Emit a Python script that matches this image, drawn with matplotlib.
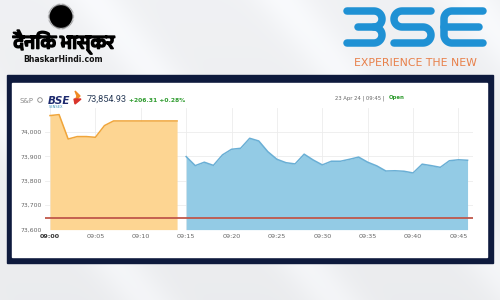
import numpy as np
import matplotlib
matplotlib.use("Agg")
from matplotlib import pyplot as plt
from matplotlib import font_manager
import matplotlib.patheffects as pe
from matplotlib.patches import Rectangle, Circle, Polygon

# ---- data ----
pre_minutes = [0, 1, 2, 3, 4, 5, 6, 7, 8, 9, 10, 11, 12, 13, 14]
pre_values = [74067, 74071, 73971, 73981, 73981, 73978, 74026, 74045,
              74045, 74045, 74045, 74045, 74045, 74045, 74045]

live_minutes = list(range(15, 47))
live_values = [73899, 73862, 73876, 73863, 73906, 73929, 73933, 73974,
               73963, 73919, 73888, 73874, 73869, 73909, 73885, 73865,
               73880, 73880, 73888, 73897, 73876, 73861, 73840, 73841,
               73839, 73832, 73868, 73862, 73855, 73882, 73886, 73884]

prev_close = 73648.62
x_ticks = [0, 5, 10, 15, 20, 25, 30, 35, 40, 45]
x_labels = ["09:00", "09:05", "09:10", "09:15", "09:20",
            "09:25", "09:30", "09:35", "09:40", "09:45"]
y_ticks = [73600, 73700, 73800, 73900, 74000]
y_labels = ["73,600", "73,700", "73,800", "73,900", "74,000"]

last_price = "73,854.93"
change_text = "+206.31 +0.28%"
stamp_text = "23 Apr 24 | 09:45 | "

# devanagari font if one is around
deva = [f.name for f in font_manager.fontManager.ttflist
        if "Devanagari" in f.name or "Lohit" in f.name or "Mukta" in f.name]
hindi_family = [deva[0], "DejaVu Sans"] if deva else ["DejaVu Sans"]

W, H = 500, 300
fig = plt.figure(figsize=(5, 3), dpi=100)

# overlay axes in pixel coords (y down)
ov = fig.add_axes([0, 0, 1, 1])
ov.set_xlim(0, W)
ov.set_ylim(H, 0)
ov.axis("off")

# background with soft diagonal streaks
yy, xx = np.mgrid[0:H, 0:W]
d = (xx - 0.8 * yy) / 60.0
bg = 0.925 + 0.035 * np.clip(np.sin(d) ** 8, 0, 1) + 0.02 * (1 - yy / H)
ov.imshow(np.dstack([bg * 0.995, bg, bg * 1.01]).clip(0, 1),
          extent=(0, W, H, 0), aspect="auto", zorder=0)

# frame
ov.add_patch(Rectangle((7, 75), 486, 188, color="#0e1a3d", zorder=1))
ov.add_patch(Rectangle((12, 82.5), 475, 174, color="white", zorder=2))

# dainik bhaskar sun: disk + spiky halo
n_spikes = 64
ang = np.linspace(0, 2 * np.pi, 2 * n_spikes, endpoint=False)
rad = np.where(np.arange(2 * n_spikes) % 2 == 0, 13.5, 10)
ov.add_patch(Polygon(np.c_[61 + rad * np.cos(ang), 16.5 + rad * np.sin(ang)],
                     color="#1a1a1a", lw=0, zorder=3))
ov.add_patch(Circle((61, 16.5), 10.5, color="black", zorder=3))
ov.text(63.5, 42, "दैनिक भास्कर", family=hindi_family, fontsize=14,
        fontweight="bold", ha="center", va="center", color="black", zorder=3,
        path_effects=[pe.withStroke(linewidth=1.2, foreground="black")])
ov.text(63, 60, "BhaskarHindi.com", family="DejaVu Sans", fontsize=5.6,
        fontweight="bold", ha="center", va="center", color="#111111", zorder=3)

# BSE logo drawn with rounded strokes
blue = "#1f91d4"
lw_logo = 7.5 * 0.72


def arc(cx, cy, r, t0, t1, n=20):
    t = np.linspace(t0, t1, n)
    return list(cx + r * np.cos(t)), list(cy + r * np.sin(t))


def stroke(xs, ys):
    ov.plot(xs, ys, color=blue, lw=lw_logo, solid_capstyle="round",
            solid_joinstyle="round", zorder=3)


# "B" (open, 3-like)
ax_, ay_ = arc(374, 19, 8, -np.pi / 2, np.pi / 2)
stroke([347] + ax_ + [358], [11] + ay_ + [27])
ax_, ay_ = arc(374, 35, 8, -np.pi / 2, np.pi / 2)
stroke(ax_ + [347], ay_ + [43])
# "S"
a1x, a1y = arc(402, 19, 8, -np.pi / 2, -3 * np.pi / 2)
a2x, a2y = arc(423, 35, 8, -np.pi / 2, np.pi / 2)
stroke([431] + a1x + a2x + [394], [11] + a1y + a2y + [43])
# "E"
b1x, b1y = arc(452, 19, 8, -np.pi / 2, -np.pi)
b2x, b2y = arc(452, 35, 8, np.pi, np.pi / 2)
stroke([483] + b1x + b2x + [483], [11] + b1y + b2y + [43])
stroke([444, 479], [27, 27])
ov.text(415, 63, "EXPERIENCE THE NEW", family="DejaVu Sans", fontsize=7.8,
        color="#e8804a", ha="center", va="center", zorder=3)

# S&P BSE SENSEX header
ov.text(19, 101, "S&P", family="DejaVu Sans", fontsize=5, color="#8a8a8a",
        ha="left", va="center", zorder=3)
ov.add_patch(Circle((40, 100), 2.3, fill=False, ec="#8a8a8a", lw=0.6, zorder=3))
ov.text(48, 101.5, "BSE", family="DejaVu Sans", fontsize=7.5, fontweight="bold",
        fontstyle="italic", color="#1d2a6e", ha="left", va="center", zorder=3)
ov.text(49, 107.5, "SENSEX", family="DejaVu Sans", fontsize=2.6,
        color="#3a8fb7", ha="left", va="center", zorder=3)
ov.add_patch(Polygon([[75, 91], [80, 96], [75, 101], [77, 96]],
                     color="#f08a24", zorder=3))
ov.add_patch(Polygon([[74, 99], [81, 99], [75, 104]], color="#d9342b", zorder=3))
ov.text(87, 99, last_price, family="Roboto", fontsize=6.6, color="#2c3e5a",
        ha="left", va="center", zorder=3)
ov.text(129, 100, change_text, family="DejaVu Sans", fontsize=4.3,
        fontweight="bold", color="#2e9b2e", ha="left", va="center", zorder=3)
ov.text(335, 98, stamp_text, family="DejaVu Sans", fontsize=3.8,
        color="#666666", ha="left", va="center", zorder=3)
ov.text(389, 98, "Open", family="DejaVu Sans", fontsize=3.9, fontweight="bold",
        color="#2e9b2e", ha="left", va="center", zorder=3)

# ---- chart ----
left, right, top, bottom = 45, 473, 108, 229.6
ax = fig.add_axes([left / W, 1 - bottom / H, (right - left) / W, (bottom - top) / H])
ax.set_facecolor("none")
ax.set_xlim(-0.55, 46.6)
ax.set_ylim(73600, 74098)

ax.fill_between(pre_minutes, pre_values, 73600, color="#fdd592", lw=0, zorder=2)
ax.plot(pre_minutes, pre_values, color="#f0a53a", lw=1.1, zorder=3)
ax.fill_between(live_minutes, live_values, 73600, color="#93cbe5", lw=0, zorder=2)
ax.plot(live_minutes, live_values, color="#6aafd5", lw=1.1, zorder=3)
ax.axhline(prev_close, color="#c0574a", lw=1.3, zorder=4)

ax.set_xticks(x_ticks)
ax.set_xticklabels(x_labels)
ax.set_yticks(y_ticks)
ax.set_yticklabels(y_labels)
ax.grid(True, color="#ececec", lw=0.6, zorder=0)
ax.set_axisbelow(True)
for s in ax.spines.values():
    s.set_visible(False)
ax.tick_params(axis="both", length=0, labelcolor="#666666")
ax.tick_params(axis="x", labelsize=4.6, pad=3.2)
ax.tick_params(axis="y", labelsize=4.4, pad=2.5)
xl = ax.get_xticklabels()
xl[0].set_fontweight("bold")
xl[0].set_color("#333333")

fig.savefig("out.png", dpi=100)
